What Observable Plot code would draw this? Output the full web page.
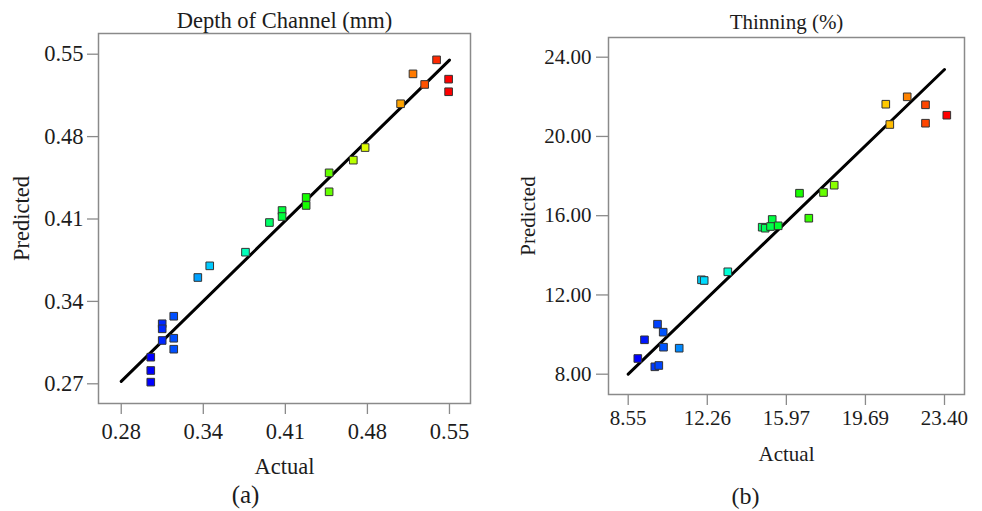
<!DOCTYPE html>
<html><head><meta charset="utf-8">
<script src="https://cdn.jsdelivr.net/npm/d3@7"></script>
<script src="https://cdn.jsdelivr.net/npm/@observablehq/plot@0.6"></script>
<style>
html,body{margin:0;padding:0;background:#fff;}
#wrap{position:relative;width:982px;height:511px;overflow:hidden;background:#fff;}
#pa{position:absolute;left:0;top:0;}
#pb{position:absolute;left:500px;top:0;}
</style></head><body><div id="wrap"><div id="pa"></div><div id="pb"></div></div>
<script>
// ---- Panel (a): Depth of Channel (mm) ----
const depthTitle = "Depth of Channel (mm)";
const depthActual = [0.5344,0.5150,0.5443,0.5246,0.5443,0.5048,0.4756,0.4659,0.4460,0.4460,0.4271,0.4271,0.4073,0.4073,0.3969,0.3772,0.3478,0.3380,0.3182,0.3087,0.3087,0.3087,0.3182,0.3182,0.2993,0.2993,0.2993];
const depthPredicted = [0.5452,0.5333,0.5288,0.5243,0.5181,0.5079,0.4707,0.4600,0.4492,0.4331,0.4283,0.4215,0.4172,0.4121,0.4070,0.3818,0.3702,0.3603,0.3274,0.3210,0.3167,0.3068,0.3087,0.2994,0.2926,0.2813,0.2714];
const depthLineX = [0.275, 0.545];
const depthLineY = [0.272, 0.545];
const depthXTicks = [0.275, 0.3425, 0.41, 0.4775, 0.545];
const depthXTickLabels = ["0.28","0.34","0.41","0.48","0.55"];
const depthYTicks = [0.27, 0.34, 0.41, 0.48, 0.55];
const depthYTickLabels = ["0.27","0.34","0.41","0.48","0.55"];

// ---- Panel (b): Thinning (%) ----
const thinTitle = "Thinning (%)";
const thinActual = [20.644,21.649,22.508,23.508,20.832,22.508,16.592,17.719,18.222,17.029,15.311,14.841,14.982,15.231,15.593,13.226,11.991,12.118,9.926,10.193,9.315,10.207,10.944,9.001,9.799,9.987];
const thinPredicted = [21.627,22.000,21.597,21.072,20.602,20.668,17.135,17.170,17.539,15.873,15.808,15.419,15.369,15.454,15.490,13.168,12.764,12.729,10.524,10.120,9.736,9.363,9.312,8.792,8.373,8.439];
const thinLineX = [8.55, 23.40];
const thinLineY = [8.00, 23.38];
const thinXTicks = [8.55, 12.2625, 15.975, 19.6875, 23.40];
const thinXTickLabels = ["8.55","12.26","15.97","19.69","23.40"];
const thinYTicks = [8, 12, 16, 20, 24];
const thinYTickLabels = ["8.00","12.00","16.00","20.00","24.00"];

const axisXLabel = "Actual";
const axisYLabel = "Predicted";
const panelLabels = ["(a)", "(b)"];

const rainbow = ["#0000ff","#00ffff","#00ff00","#ffff00","#ff0000"];

function panel(cfg) {
  const pts = cfg.actual.map((a, i) => ({a, p: cfg.predicted[i]}));
  const line = cfg.lineX.map((x, i) => ({x, y: cfg.lineY[i]}));
  const [lo, hi] = d3.extent(cfg.actual);
  const stops = rainbow.map((_, i) => lo + (hi - lo) * i / (rainbow.length - 1));
  const xf = new Map(cfg.xTicks.map((v, i) => [v, cfg.xLabels[i]]));
  const yf = new Map(cfg.yTicks.map((v, i) => [v, cfg.yLabels[i]]));
  const gray = "#8a8a8a", ink = "#1c1c1c";
  return Plot.plot({
    width: cfg.width, height: 511,
    marginLeft: cfg.m[0], marginRight: cfg.m[1], marginTop: cfg.m[2], marginBottom: cfg.m[3],
    style: {fontFamily: "'Liberation Serif', serif", fontSize: cfg.font + "px", color: ink, background: "#fff", overflow: "visible"},
    x: {domain: cfg.xDomain},
    y: {domain: cfg.yDomain},
    color: {type: "linear", domain: stops, range: rainbow, interpolate: "rgb"},
    marks: [
      Plot.frame({stroke: gray, strokeWidth: 1.5}),
      Plot.axisX({ticks: cfg.xTicks, tickFormat: d => xf.get(d), tickSize: cfg.tx[0], tickPadding: cfg.tx[1], stroke: gray, strokeWidth: 1.3, fill: ink, label: null}),
      Plot.axisY({ticks: cfg.yTicks, tickFormat: d => yf.get(d), tickSize: cfg.ty[0], tickPadding: cfg.ty[1], stroke: gray, strokeWidth: 1.3, fill: ink, label: null}),
      Plot.line(line, {x: "x", y: "y", stroke: "#000", strokeWidth: 3}),
      Plot.dot(pts, {x: "a", y: "p", fill: "a", symbol: "square", r: 4.3, stroke: "#333", strokeWidth: 1}),
      Plot.text([cfg.title], {text: d => d, frameAnchor: "top", dy: cfg.titleDy, lineAnchor: "middle", fontSize: cfg.titleFont, fill: ink}),
      Plot.text([axisXLabel], {text: d => d, frameAnchor: "bottom", dy: cfg.xlabDy, lineAnchor: "middle", fill: ink}),
      Plot.text([axisYLabel], {text: d => d, frameAnchor: "left", dx: cfg.ylabDx, rotate: -90, textAnchor: "middle", lineAnchor: "middle", fill: ink}),
      Plot.text([cfg.tag], {text: d => d, frameAnchor: "bottom", dx: cfg.tagDx, dy: cfg.tagDy, lineAnchor: "middle", fontSize: cfg.tagFont, fill: ink})
    ]
  });
}

document.getElementById("pa").appendChild(panel({
  actual: depthActual, predicted: depthPredicted, lineX: depthLineX, lineY: depthLineY,
  xTicks: depthXTicks, xLabels: depthXTickLabels, yTicks: depthYTicks, yLabels: depthYTickLabels,
  xDomain: [0.2563, 0.5623], yDomain: [0.25326, 0.56759],
  width: 491, m: [98, 21, 33, 108], font: 22.5, titleFont: 22.5,
  tx: [11, 9], ty: [11, 4],
  title: depthTitle, titleDy: -12.5, xlabDy: 63.5, ylabDx: -77,
  tag: panelLabels[0], tagDx: -39, tagDy: 91, tagFont: 25
}));

document.getElementById("pb").appendChild(panel({
  actual: thinActual, predicted: thinPredicted, lineX: thinLineX, lineY: thinLineY,
  xTicks: thinXTicks, xLabels: thinXTickLabels, yTicks: thinYTicks, yLabels: thinYTickLabels,
  xDomain: [7.625, 24.339], yDomain: [6.975, 24.994],
  width: 482, m: [108, 18, 37, 117], font: 21, titleFont: 21,
  tx: [11, 5], ty: [12, 5],
  title: thinTitle, titleDy: -15.3, xlabDy: 59.3, ylabDx: -80,
  tag: panelLabels[1], tagDx: -41, tagDy: 102, tagFont: 24
}));
</script>
</body></html>
